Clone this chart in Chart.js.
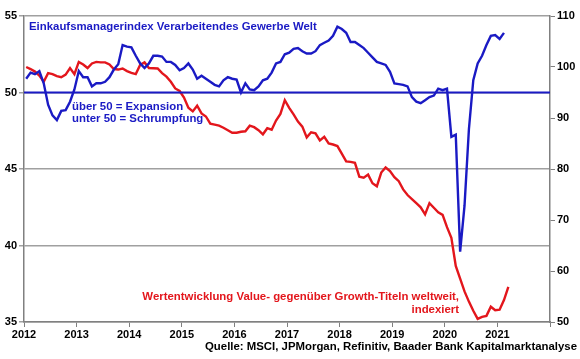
<!DOCTYPE html>
<html>
<head>
<meta charset="utf-8">
<script src="https://cdn.jsdelivr.net/npm/chart.js@4.4.1/dist/chart.umd.min.js"></script>
<style>
  html, body { margin: 0; padding: 0; background: #fff; }
  #c { display: block; }
</style>
</head>
<body>
<canvas id="c" width="580" height="359"></canvas>
<script>
// ---- Data (monthly, starting January 2012) ----
const yearTicks = ['2012','2013','2014','2015','2016','2017','2018','2019','2020','2021'];
const startYear = 2012;

// JPMorgan global manufacturing PMI (left axis)
const pmi = [
  50.9, 51.3, 51.2, 51.4, 50.6, 49.2, 48.5, 48.2, 48.8, 48.85, 49.4, 50.2,
  51.4, 51.0, 51.0, 50.4, 50.6, 50.6, 50.7, 51.0, 51.5, 51.85, 53.1, 53.0,
  52.95, 52.4, 51.9, 51.6, 51.9, 52.4, 52.4, 52.35, 52.0, 52.0, 51.8, 51.45,
  51.6, 51.9, 51.5, 50.9, 51.1, 50.9, 50.7, 50.5, 50.4, 50.8, 51.0, 50.9,
  50.85, 50.0, 50.6, 50.2, 50.15, 50.4, 50.8, 50.9, 51.3, 51.9, 52.0, 52.5,
  52.6, 52.85, 52.9, 52.7, 52.55, 52.55, 52.7, 53.1, 53.25, 53.4, 53.7, 54.3,
  54.15, 53.9, 53.3, 53.3, 53.1, 52.9, 52.6, 52.3, 52.0, 51.9, 51.8, 51.35,
  50.6, 50.55, 50.5, 50.4, 49.7, 49.4, 49.3, 49.5, 49.7, 49.8, 50.25, 50.15,
  50.25, 47.1, 47.25, 39.6, 42.6, 47.6, 50.8, 51.9, 52.4, 53.1, 53.7, 53.75,
  53.5, 53.9
];

// Value vs. Growth, indexed (right axis)
const valueVsGrowth = [
  100.0, 99.6, 99.1, 98.3, 97.1, 98.8, 98.6, 98.2, 98.0, 98.5, 99.8, 98.6,
  101.0, 100.5, 99.8, 100.7, 101.0, 100.9, 100.9, 100.5, 99.6, 99.5, 99.7, 99.2,
  98.85, 98.6, 100.4, 100.9, 99.8, 99.75, 99.7, 98.8, 98.1, 97.1, 95.8, 95.3,
  94.0, 92.0, 91.3, 92.4, 90.9, 90.3, 88.9, 88.7, 88.5, 88.1, 87.6, 87.1,
  87.1, 87.3, 87.4, 88.5, 88.2, 87.6, 86.8, 88.0, 87.7, 89.5, 90.8, 93.5,
  92.0, 90.7, 89.3, 88.3, 86.2, 87.2, 87.0, 85.6, 86.3, 85.0, 84.8, 84.5,
  83.0, 81.5, 81.4, 81.2, 78.5, 78.3, 78.9, 77.2, 76.6, 79.3, 80.3, 79.6,
  78.4, 77.6, 76.0, 74.9, 74.1, 73.3, 72.5, 71.1, 73.3, 72.4, 71.5, 71.0,
  68.6, 66.5, 61.0, 58.5, 56.0, 54.0, 52.2, 50.6, 51.0, 51.2, 53.0, 52.3,
  52.4, 54.3, 56.9
];

const threshold = 50;

// ---- Build datasets ----
const toXY = arr => arr.map((v, i) => ({ x: startYear + (i + 0.5) / 12, y: v }));

const BLUE = '#1a1ac4';
const RED = '#e3161c';

const textPlugin = {
  id: 'texts',
  afterDraw(chart) {
    const ctx = chart.ctx;
    ctx.save();
    ctx.font = 'bold 11.4px "Liberation Sans", Arial, sans-serif';
    ctx.textBaseline = 'middle';
    ctx.fillStyle = BLUE;
    ctx.textAlign = 'left';
    ctx.fillText('Einkaufsmanagerindex Verarbeitendes Gewerbe Welt', 29, 27);
    ctx.fillText('über 50 = Expansion', 72, 107);
    ctx.fillText('unter 50 = Schrumpfung', 72, 119);
    ctx.fillStyle = RED;
    ctx.textAlign = 'right';
    ctx.fillText('Wertentwicklung Value- gegenüber Growth-Titeln weltweit,', 459, 297);
    ctx.fillText('indexiert', 459, 310);
    ctx.fillStyle = '#000';
    ctx.fillText('Quelle: MSCI, JPMorgan, Refinitiv, Baader Bank Kapitalmarktanalyse', 577, 347);
    ctx.restore();
  }
};

const tickFont = { family: '"Liberation Sans", Arial, sans-serif', size: 11, weight: 'bold' };

new Chart(document.getElementById('c'), {
  type: 'line',
  data: {
    datasets: [
      {
        label: 'PMI',
        data: toXY(pmi),
        yAxisID: 'y',
        borderColor: BLUE,
        borderWidth: 2.4,
        pointRadius: 0,
        tension: 0,
        order: 1
      },
      {
        label: 'Value vs Growth',
        data: toXY(valueVsGrowth),
        yAxisID: 'y2',
        borderColor: RED,
        borderWidth: 2.4,
        pointRadius: 0,
        tension: 0,
        order: 2
      },
      {
        label: '50',
        data: [{ x: 2012, y: threshold }, { x: 2022, y: threshold }],
        yAxisID: 'y',
        borderColor: BLUE,
        borderWidth: 2,
        pointRadius: 0,
        order: 0
      }
    ]
  },
  options: {
    responsive: false,
    devicePixelRatio: 1,
    animation: false,
    layout: { padding: { top: 16, bottom: 0, left: 0, right: 0 } },
    plugins: { legend: { display: false }, tooltip: { enabled: false } },
    scales: {
      x: {
        type: 'linear',
        min: 2012,
        max: 2022,
        ticks: {
          stepSize: 1,
          autoSkip: false,
          maxRotation: 0,
          font: tickFont,
          color: '#000',
          padding: 1,
          callback: v => (yearTicks.includes(String(v)) ? String(v) : '')
        },
        grid: { drawOnChartArea: false, drawTicks: true, tickLength: 5, color: '#808080', lineWidth: 1 },
        border: { display: true, color: '#808080', width: 1.5 },
        afterFit: s => { s.height = 37; }
      },
      y: {
        position: 'left',
        min: 35,
        max: 55,
        ticks: { stepSize: 5, font: tickFont, color: '#000', padding: 2 },
        grid: { color: '#a0a0a0', lineWidth: 1.5, tickLength: 5 },
        border: { display: true, color: '#808080', width: 1.5 },
        afterFit: s => { s.width = 24; }
      },
      y2: {
        position: 'right',
        min: 50,
        max: 110,
        ticks: { stepSize: 10, font: tickFont, color: '#000', padding: 2 },
        grid: { drawOnChartArea: false, color: '#808080', tickLength: 5 },
        border: { display: true, color: '#808080', width: 1.5 },
        afterFit: s => { s.width = 30; }
      }
    }
  },
  plugins: [textPlugin]
});
</script>
</body>
</html>
